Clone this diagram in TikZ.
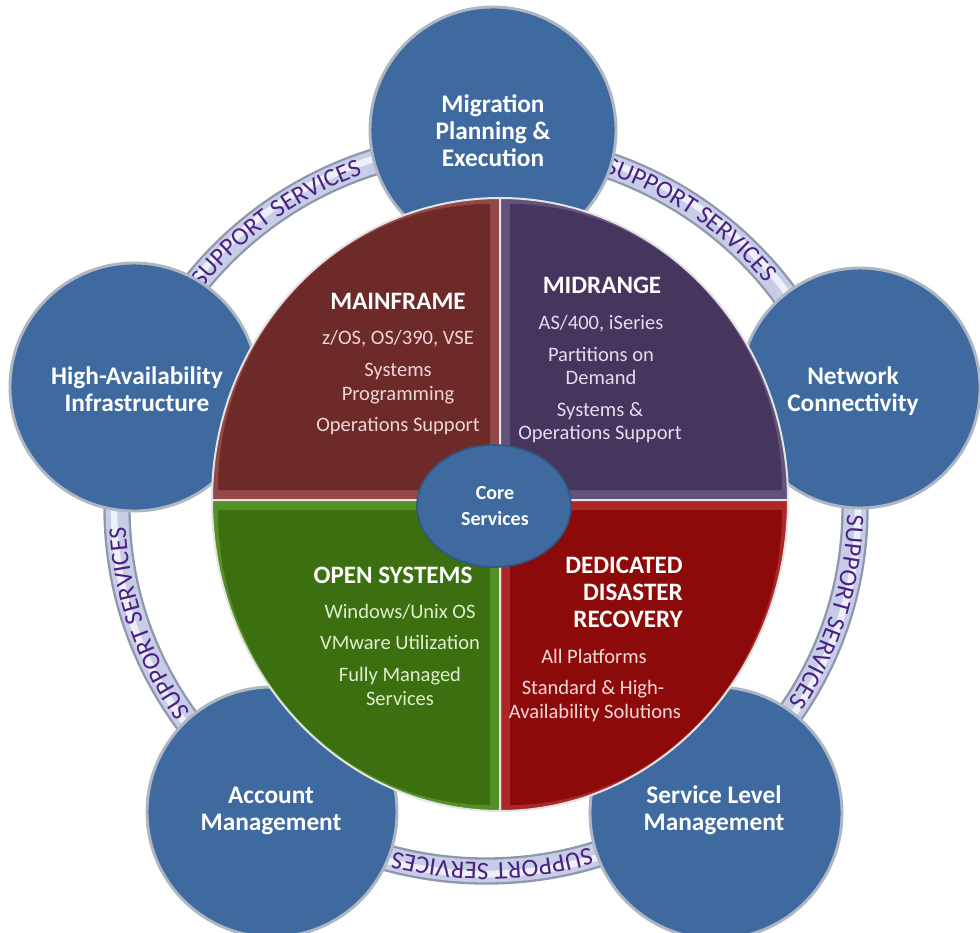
\documentclass[tikz,border=0pt]{standalone}
\usepackage{fontspec}
\setmainfont{Carlito}
\usetikzlibrary{shapes.geometric,decorations.text,calc}
\definecolor{cblue}{HTML}{3E6A9F}
\definecolor{cbluerim}{HTML}{AEB6C3}
\definecolor{cbluedark}{HTML}{2E5784}
\definecolor{mfc}{HTML}{6E2929}
\definecolor{mfb}{HTML}{934747}
\definecolor{mrc}{HTML}{46355C}
\definecolor{mrb}{HTML}{62527C}
\definecolor{osc}{HTML}{3C6F10}
\definecolor{osb}{HTML}{558F28}
\definecolor{drc}{HTML}{8C0A0A}
\definecolor{drb}{HTML}{AC2828}
\definecolor{ringedge}{HTML}{8E97AB}
\definecolor{ringfill}{HTML}{C8CDE7}
\definecolor{ringhi}{HTML}{EEF0F9}
\definecolor{suptext}{HTML}{4B2283}
\definecolor{mfi}{HTML}{EDD6D6}
\definecolor{mri}{HTML}{E4DCEF}
\definecolor{osi}{HTML}{DFEFCD}
\definecolor{dri}{HTML}{F6D8D8}
\begin{document}
\begin{tikzpicture}[x=0.75pt,y=-0.75pt,
  circ/.style={circle, fill=cblue, draw=cbluerim, line width=2.2pt, inner sep=0pt},
  ctext/.style={anchor=base, inner sep=0pt, text=white, align=center,
    font=\bfseries\fontsize{19}{20}\selectfont},
  head/.style={anchor=base, inner sep=0pt, text=white,
    font=\bfseries\fontsize{18.8}{20.3}\selectfont},
  item/.style={anchor=base, inner sep=0pt, font=\fontsize{15.4}{17.5}\selectfont},
  quad/.style={draw=white!78!gray, line width=1.5pt},
]
\useasboundingbox (0,0) rectangle (980,932);

% support ring
\draw[ringedge, line width=20.5pt] (486,508) ellipse [x radius=369, y radius=363];
\draw[ringfill, line width=17pt] (486,508) ellipse [x radius=369, y radius=363];
\draw[ringhi, line width=5pt] (486,508) ellipse [x radius=372, y radius=366];

\foreach \m in {126,55,-17,199,271}{
  \path[decorate, decoration={text along path,
      text={|\color{suptext}\fontsize{19}{19}\selectfont|SUPPORT SERVICES},
      text align=center}]
    ($(486,508)+({-\m-36}:361 and 355)$)
    arc[start angle={-\m-36}, end angle={-\m+36}, x radius=361, y radius=355];
}

% outer circles
\node[circ, minimum size=184.5pt] (mig) at (493,130) {};
\node[circ, minimum size=186pt] (ha) at (134,387) {};
\node[circ, minimum size=180pt] (net) at (860,388) {};
\node[circ, minimum size=187.5pt] (acc) at (272,812) {};
\node[circ, minimum size=189pt] (slm) at (716,813) {};

% central quadrants
\fill[mfb] (500,500) -- ++(-288,0) arc[start angle=180, end angle=270, x radius=288, y radius=302] -- cycle;
\fill[mfc] (490,490) -- ++(-272,0) arc[start angle=180, end angle=270, x radius=272, y radius=286] -- cycle;
\draw[quad] (500,500) -- ++(-288,0) arc[start angle=180, end angle=270, x radius=288, y radius=302] -- cycle;

\fill[mrb] (500,500) -- ++(0,-302) arc[start angle=270, end angle=360, x radius=288, y radius=302] -- cycle;
\fill[mrc] (510,490) -- ++(0,-286) arc[start angle=270, end angle=360, x radius=272, y radius=286] -- cycle;
\draw[quad] (500,500) -- ++(0,-302) arc[start angle=270, end angle=360, x radius=288, y radius=302] -- cycle;

\fill[drb] (500,500) -- ++(288,0) arc[start angle=0, end angle=90, x radius=288, y radius=311] -- cycle;
\fill[drc] (510,510) -- ++(272,0) arc[start angle=0, end angle=90, x radius=272, y radius=295] -- cycle;
\draw[quad] (500,500) -- ++(288,0) arc[start angle=0, end angle=90, x radius=288, y radius=311] -- cycle;

\fill[osb] (500,500) -- ++(0,311) arc[start angle=90, end angle=180, x radius=288, y radius=311] -- cycle;
\fill[osc] (490,510) -- ++(0,295) arc[start angle=90, end angle=180, x radius=272, y radius=295] -- cycle;
\draw[quad] (500,500) -- ++(0,311) arc[start angle=90, end angle=180, x radius=288, y radius=311] -- cycle;

% outer circle texts (anchor = baseline of last line)
\node[ctext] (migt) at (493,166) {Migration\\Planning \&\\Execution};
\node[ctext] (hat) at (137,411) {High-Availability\\Infrastructure};
\node[ctext] (nett) at (853,411) {Network\\Connectivity};
\node[ctext] (acct) at (271,830) {Account\\Management};
\node[ctext] (slmt) at (714,830) {Service Level\\Management};

% mainframe
\node[head] (mfh) at (398,309) {MAINFRAME};
\node[item, text=mfi] (mf1) at (398,344.5) {z/OS, OS/390, VSE};
\node[item, text=mfi] (mf2) at (398,376.5) {Systems};
\node[item, text=mfi] (mf3) at (398,400.5) {Programming};
\node[item, text=mfi] (mf4) at (398,431.5) {Operations Support};

% midrange
\node[head] (mrh) at (602,293) {MIDRANGE};
\node[item, text=mri] (mr1) at (601,329.5) {AS/400, iSeries};
\node[item, text=mri] (mr2) at (601,361.5) {Partitions on};
\node[item, text=mri] (mr3) at (601,384.5) {Demand};
\node[item, text=mri] (mr4) at (600,416.5) {Systems \&};
\node[item, text=mri] (mr5) at (600,439.5) {Operations Support};

% open systems
\node[head] (osh) at (393,583) {OPEN SYSTEMS};
\node[item, text=osi] (os1) at (400,618.5) {Windows/Unix OS};
\node[item, text=osi] (os2) at (400,649.5) {VMware Utilization};
\node[item, text=osi] (os3) at (400,681.5) {Fully Managed};
\node[item, text=osi] (os4) at (400,705.5) {Services};

% disaster recovery
\node[head, anchor=base east] (drh1) at (683,573) {DEDICATED};
\node[head, anchor=base east] (drh2) at (683,600) {DISASTER};
\node[head, anchor=base east] (drh3) at (683,627) {RECOVERY};
\node[item, text=dri] (dr1) at (594,663.5) {All Platforms};
\node[item, text=dri] (dr2) at (593,694.5) {Standard \& High-};
\node[item, text=dri] (dr3) at (595,718.5) {Availability Solutions};

% core
\node[ellipse, fill=cblue, draw=cbluedark, line width=1.2pt, minimum width=115.5pt,
  minimum height=91.5pt, inner sep=0pt] (core) at (494,506) {};
\node[anchor=base, inner sep=0pt, text=white, align=center,
  font=\bfseries\fontsize{15}{19.5}\selectfont] (coret) at (495,525.5) {Core\\Services};
\end{tikzpicture}
\end{document}
